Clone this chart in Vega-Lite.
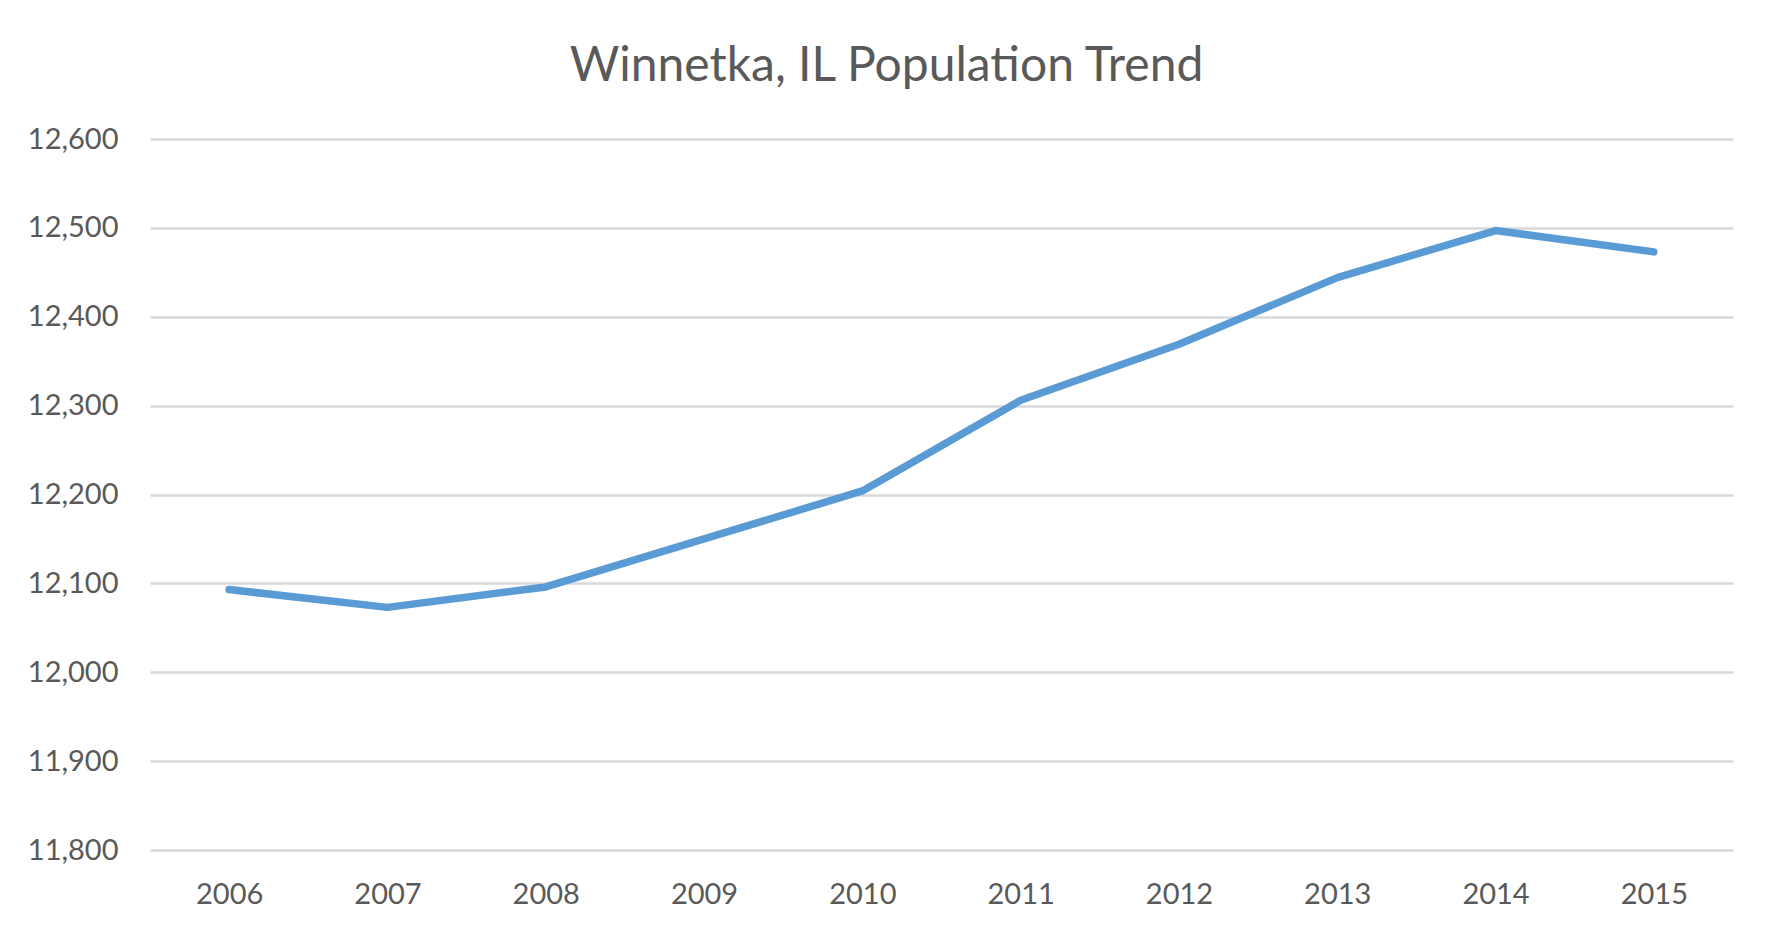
{
  "$schema": "https://vega.github.io/schema/vega-lite/v6.json",
  "autosize": {"type": "none"},
  "padding": {"left": 150, "top": 139, "right": 40, "bottom": 87},
  "width": 1583,
  "height": 711,
  "background": "white",
  "title": {
    "text": "Winnetka, IL Population Trend",
    "font": "Lato",
    "fontSize": 48,
    "fontWeight": "normal",
    "color": "#595959",
    "anchor": "middle",
    "dx": -55,
    "baseline": "alphabetic",
    "offset": -4
  },
  "data": {
    "values": [
      {"year": "2006", "population": 12093},
      {"year": "2007", "population": 12073},
      {"year": "2008", "population": 12096},
      {"year": "2009", "population": 12150},
      {"year": "2010", "population": 12204},
      {"year": "2011", "population": 12306},
      {"year": "2012", "population": 12369},
      {"year": "2013", "population": 12444},
      {"year": "2014", "population": 12497},
      {"year": "2015", "population": 12473}
    ]
  },
  "mark": {
    "type": "line",
    "color": "#5b9bd5",
    "strokeWidth": 7.5,
    "strokeCap": "round",
    "strokeJoin": "round"
  },
  "encoding": {
    "x": {
      "field": "year",
      "type": "ordinal",
      "scale": {"type": "point", "padding": 0.5},
      "axis": {
        "title": null,
        "labelAngle": 0,
        "domain": false,
        "ticks": false,
        "grid": false,
        "labelFont": "Lato",
        "labelFontSize": 29,
        "labelColor": "#595959",
        "labelBaseline": "top",
        "labelPadding": 30
      }
    },
    "y": {
      "field": "population",
      "type": "quantitative",
      "scale": {"domain": [11800, 12600], "nice": false, "zero": false},
      "axis": {
        "title": null,
        "values": [11800, 11900, 12000, 12100, 12200, 12300, 12400, 12500, 12600],
        "format": ",d",
        "domain": false,
        "ticks": false,
        "grid": true,
        "gridColor": "#d9d9d9",
        "gridWidth": 2.5,
        "labelFont": "Lato",
        "labelFontSize": 29,
        "labelColor": "#595959",
        "labelPadding": 32
      }
    }
  },
  "config": {
    "view": {"stroke": null}
  }
}
